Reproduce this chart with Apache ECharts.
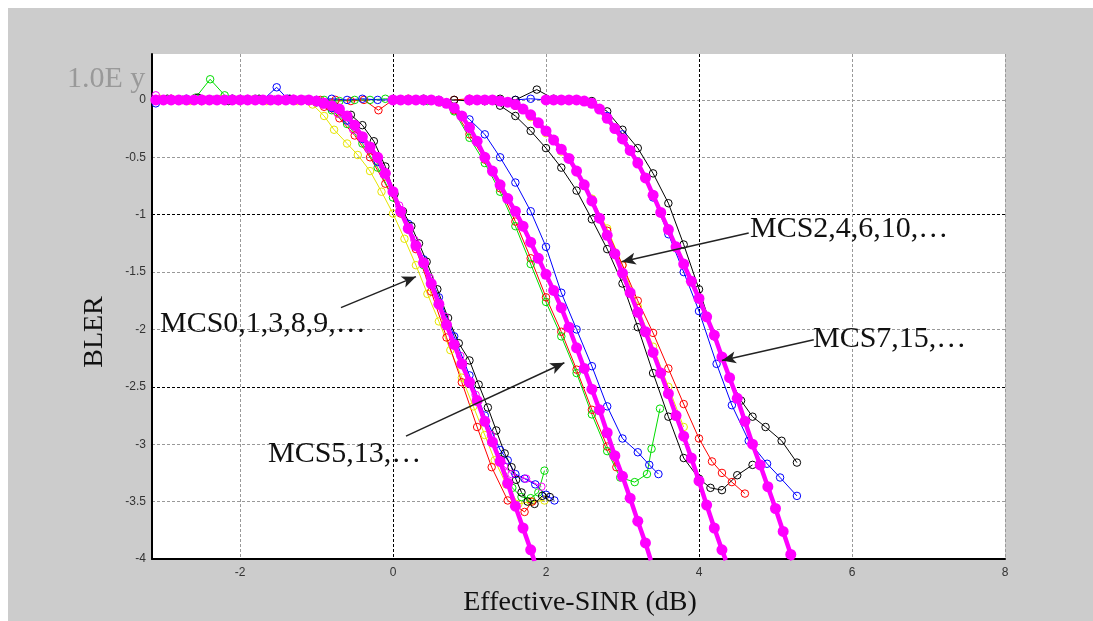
<!DOCTYPE html>
<html>
<head>
<meta charset="utf-8">
<script src="https://cdn.jsdelivr.net/npm/echarts@6/dist/echarts.min.js"></script>
<style>
  html, body { margin: 0; padding: 0; background: #fff; }
  #bler { position: absolute; left: 8px; top: 8px; width: 1085px; height: 613px; background: #cccccc; }
</style>
</head>
<body>
<div id="bler"></div>
<script>
// reference (thick magenta) curves, one per MCS group
var g1Ref = [[-3.1,0],[-3.0,0],[-2.9,0],[-2.8,0],[-2.7,0],[-2.6,0],[-2.5,0],[-2.4,0],[-2.3,0],[-2.2,0],[-2.1,0],[-2.0,0],[-1.9,0],[-1.8,0],[-1.7,0],[-1.6,0],[-1.5,0],[-1.4,0],[-1.3,0],[-1.2,0],[-1.1,0],[-1.0,-0.01],[-0.9,-0.03],[-0.8,-0.05],[-0.7,-0.08],[-0.6,-0.14],[-0.5,-0.22],[-0.4,-0.32],[-0.3,-0.41],[-0.2,-0.5],[-0.1,-0.64],[0.0,-0.8],[0.1,-0.97],[0.2,-1.12],[0.3,-1.27],[0.4,-1.42],[0.5,-1.6],[0.6,-1.78],[0.7,-1.96],[0.8,-2.13],[0.9,-2.3],[1.0,-2.46],[1.1,-2.62],[1.2,-2.8],[1.3,-2.98],[1.4,-3.15],[1.5,-3.34],[1.6,-3.54],[1.7,-3.73],[1.8,-3.92],[1.85,-4.02]];
var g2Ref = [[0.0,0],[0.1,0],[0.2,0],[0.3,0],[0.4,0],[0.5,0],[0.6,-0.01],[0.7,-0.03],[0.8,-0.07],[0.9,-0.14],[1.0,-0.24],[1.1,-0.36],[1.2,-0.5],[1.3,-0.62],[1.4,-0.74],[1.5,-0.86],[1.6,-0.97],[1.7,-1.1],[1.8,-1.24],[1.9,-1.38],[2.0,-1.52],[2.1,-1.66],[2.2,-1.81],[2.3,-1.98],[2.4,-2.16],[2.5,-2.34],[2.6,-2.52],[2.7,-2.7],[2.8,-2.9],[2.9,-3.1],[3.0,-3.28],[3.1,-3.47],[3.2,-3.67],[3.3,-3.86],[3.37,-4.01]];
var g3Ref = [[1.0,0],[1.1,0],[1.2,0],[1.3,0],[1.4,-0.01],[1.5,-0.02],[1.6,-0.04],[1.7,-0.08],[1.8,-0.13],[1.9,-0.2],[2.0,-0.27],[2.1,-0.35],[2.2,-0.43],[2.3,-0.51],[2.4,-0.62],[2.5,-0.74],[2.6,-0.88],[2.7,-1.03],[2.8,-1.18],[2.9,-1.34],[3.0,-1.51],[3.1,-1.68],[3.2,-1.85],[3.3,-2.02],[3.4,-2.2],[3.5,-2.38],[3.6,-2.56],[3.7,-2.75],[3.8,-2.93],[3.9,-3.12],[4.0,-3.32],[4.1,-3.53],[4.2,-3.73],[4.3,-3.92],[4.35,-4.01]];
var g4Ref = [[2.0,0],[2.1,0],[2.2,0],[2.3,0],[2.4,0],[2.5,-0.01],[2.6,-0.03],[2.7,-0.08],[2.8,-0.16],[2.9,-0.25],[3.0,-0.34],[3.1,-0.44],[3.2,-0.55],[3.3,-0.68],[3.4,-0.83],[3.5,-0.98],[3.6,-1.13],[3.7,-1.28],[3.8,-1.43],[3.9,-1.58],[4.0,-1.73],[4.1,-1.89],[4.2,-2.05],[4.3,-2.24],[4.4,-2.42],[4.5,-2.6],[4.6,-2.8],[4.7,-3.0],[4.8,-3.18],[4.9,-3.37],[5.0,-3.56],[5.1,-3.76],[5.2,-3.96],[5.22,-4.01]];

// simulated curves, MCS0,1,3,8,9,...
var g1Yellow = [[-3.05,0.01],[-2.85,0],[-2.65,-0.01],[-2.45,0],[-2.25,0.01],[-2.05,0],[-1.85,0],[-1.65,-0.01],[-1.45,0],[-1.25,-0.01],[-1.05,-0.04],[-0.9,-0.14],[-0.77,-0.26],[-0.6,-0.38],[-0.46,-0.48],[-0.3,-0.62],[-0.15,-0.8],[0.0,-0.99],[0.15,-1.21],[0.3,-1.44],[0.45,-1.69],[0.6,-1.93],[0.75,-2.18],[0.9,-2.42],[1.05,-2.67],[1.2,-2.92],[1.33,-3.14],[1.48,-3.35],[1.64,-3.52],[1.8,-3.5],[1.98,-3.49]];
var g1Red = [[-3.1,0],[-2.9,0.01],[-2.7,0],[-2.5,-0.01],[-2.3,0],[-2.1,0.01],[-1.9,0],[-1.7,0],[-1.5,-0.01],[-1.3,0],[-1.1,-0.01],[-0.9,-0.06],[-0.7,-0.16],[-0.5,-0.31],[-0.3,-0.5],[-0.1,-0.73],[0.1,-0.99],[0.3,-1.3],[0.5,-1.67],[0.7,-2.07],[0.9,-2.46],[1.1,-2.85],[1.29,-3.2],[1.5,-3.49],[1.72,-3.59],[1.82,-3.5]];
var g1Green = [[-3.0,0],[-2.8,0],[-2.58,0.02],[-2.39,0.18],[-2.2,0.04],[-2.0,0],[-1.8,0.01],[-1.6,0],[-1.4,0],[-1.2,0],[-1.0,-0.02],[-0.8,-0.09],[-0.6,-0.21],[-0.4,-0.38],[-0.2,-0.59],[0.0,-0.85],[0.2,-1.13],[0.4,-1.44],[0.6,-1.78],[0.8,-2.12],[1.0,-2.46],[1.2,-2.8],[1.4,-3.13],[1.56,-3.38],[1.68,-3.46],[1.8,-3.47],[1.9,-3.42],[1.98,-3.23]];
var g1Blue = [[-3.1,-0.03],[-2.9,0],[-2.7,0.01],[-2.5,0],[-2.3,0],[-2.1,0.01],[-1.9,0],[-1.7,0],[-1.52,0.11],[-1.38,0.01],[-1.2,0],[-1.0,-0.02],[-0.8,-0.07],[-0.6,-0.18],[-0.4,-0.34],[-0.2,-0.54],[0.0,-0.8],[0.2,-1.08],[0.4,-1.39],[0.6,-1.72],[0.8,-2.06],[1.0,-2.4],[1.2,-2.75],[1.4,-3.05],[1.5,-3.14],[1.6,-3.26],[1.72,-3.3],[1.86,-3.35],[2.0,-3.44],[2.11,-3.49]];
var g1Black = [[-2.95,0.01],[-2.75,0],[-2.55,0.02],[-2.35,0],[-2.15,-0.01],[-1.95,0],[-1.75,0.01],[-1.55,0],[-1.35,0.01],[-1.15,0],[-0.95,-0.02],[-0.75,-0.06],[-0.55,-0.13],[-0.4,-0.22],[-0.25,-0.36],[-0.1,-0.58],[0.02,-0.82],[0.13,-0.97],[0.24,-1.1],[0.34,-1.25],[0.44,-1.41],[0.58,-1.65],[0.72,-1.9],[0.86,-2.12],[1.0,-2.27],[1.12,-2.48],[1.24,-2.68],[1.35,-2.88],[1.46,-3.08],[1.55,-3.2],[1.61,-3.31],[1.68,-3.42],[1.76,-3.5],[1.85,-3.52],[1.95,-3.45],[2.05,-3.46]];
var g1Pink = [[-3.1,0.04],[-2.9,0.01],[-2.7,0],[-2.5,0.01],[-2.3,0],[-2.1,0],[-1.9,0.01],[-1.7,0],[-1.5,0],[-1.3,0.01],[-1.1,-0.01],[-0.92,-0.04],[-0.72,-0.12],[-0.52,-0.26],[-0.32,-0.43],[-0.12,-0.65],[0.08,-0.92],[0.28,-1.22],[0.48,-1.55],[0.68,-1.89],[0.88,-2.23],[1.08,-2.57],[1.28,-2.92],[1.45,-3.19],[1.55,-3.26],[1.74,-3.3],[1.94,-3.37]];

// MCS5,13,...
var g2Blue = [[-1.0,0],[-0.8,0.01],[-0.6,0],[-0.4,0.01],[-0.2,0],[0.0,0],[0.2,0],[0.4,-0.01],[0.6,-0.01],[0.8,-0.06],[1.0,-0.17],[1.2,-0.3],[1.4,-0.5],[1.6,-0.72],[1.8,-0.97],[2.0,-1.28],[2.2,-1.68],[2.4,-2.0],[2.6,-2.32],[2.8,-2.67],[3.0,-2.95],[3.2,-3.07],[3.35,-3.18],[3.47,-3.26]];
var g2Green = [[-0.9,0],[-0.7,-0.01],[-0.5,0],[-0.3,0],[-0.1,0.01],[0.1,0],[0.3,0],[0.45,-0.01],[0.62,-0.02],[0.8,-0.1],[1.0,-0.33],[1.2,-0.55],[1.4,-0.8],[1.6,-1.1],[1.8,-1.43],[2.0,-1.76],[2.2,-2.06],[2.4,-2.38],[2.6,-2.74],[2.8,-3.06],[2.97,-3.29],[3.16,-3.33],[3.32,-3.26],[3.38,-3.04],[3.49,-2.69]];
var g2Red = [[-0.95,0],[-0.75,0],[-0.55,-0.01],[-0.38,0],[-0.19,-0.09],[0.0,0],[0.2,0.01],[0.4,0],[0.6,-0.02],[0.8,-0.09],[1.0,-0.3],[1.2,-0.52],[1.4,-0.77],[1.6,-1.06],[1.8,-1.38],[2.0,-1.72],[2.2,-2.02],[2.4,-2.35],[2.6,-2.7],[2.8,-3.02],[2.92,-3.2]];

// MCS2,4,6,10,...
var g3Black = [[0.2,0],[0.4,0.01],[0.6,0],[0.8,0],[1.0,-0.01],[1.2,-0.01],[1.4,-0.05],[1.6,-0.14],[1.8,-0.27],[2.0,-0.42],[2.2,-0.59],[2.4,-0.79],[2.6,-1.04],[2.8,-1.3],[3.0,-1.6],[3.2,-1.98],[3.4,-2.38],[3.6,-2.76],[3.8,-3.12],[4.0,-3.3],[4.15,-3.38],[4.3,-3.4],[4.5,-3.27],[4.7,-3.18]];
var g3Red = [[0.8,0],[1.0,0.01],[1.2,0],[1.4,-0.01],[1.6,-0.05],[1.8,-0.14],[2.0,-0.27],[2.2,-0.43],[2.4,-0.62],[2.6,-0.87],[2.8,-1.14],[3.0,-1.44],[3.2,-1.75],[3.4,-2.03],[3.6,-2.34],[3.8,-2.65],[4.0,-2.95],[4.17,-3.15],[4.3,-3.25],[4.43,-3.33],[4.6,-3.43]];
var g3Yellow = [[1.2,0],[1.4,-0.01],[1.6,-0.05],[1.8,-0.15],[2.0,-0.29],[2.2,-0.45],[2.4,-0.63],[2.6,-0.86],[2.8,-1.12],[3.0,-1.44],[3.2,-1.8],[3.4,-2.15],[3.6,-2.5],[3.8,-2.85]];

// MCS7,15,...
var g4Black = [[1.0,0],[1.2,-0.01],[1.4,0.01],[1.6,0],[1.88,0.09],[2.1,0.01],[2.4,0],[2.6,-0.01],[2.8,-0.1],[3.0,-0.26],[3.2,-0.42],[3.4,-0.64],[3.6,-0.9],[3.8,-1.26],[4.0,-1.65],[4.2,-2.06],[4.4,-2.42],[4.55,-2.62],[4.7,-2.76],[4.87,-2.85],[5.08,-2.97],[5.28,-3.16]];
var g4Blue = [[1.6,0],[1.8,0.01],[2.0,0],[2.2,0],[2.4,0],[2.6,-0.03],[2.8,-0.14],[3.0,-0.3],[3.2,-0.54],[3.4,-0.85],[3.6,-1.17],[3.8,-1.5],[4.0,-1.84],[4.23,-2.3],[4.43,-2.66],[4.65,-2.97],[4.89,-3.17],[5.06,-3.29],[5.28,-3.45]];

// annotation arrows, [from, to] in data units
var arrows = [
  [[-0.68, -1.81], [0.3, -1.54]],
  [[4.65, -1.16], [2.99, -1.41]],
  [[5.5, -2.09], [4.3, -2.27]],
  [[0.17, -2.93], [2.24, -2.29]]
];

var xGridColors = ['#999', '#000', '#999', '#000', '#999', '#999'];
var yGridColors = ['#000', '#999', '#999', '#000', '#999', '#999', '#000', '#999', '#999'];

function thin(data, color) {
  return {
    type: 'line', data: data, symbol: 'circle', symbolSize: 7.5, showAllSymbol: true, silent: true, z: 2,
    lineStyle: { color: color, width: 1 },
    itemStyle: { color: 'rgba(0,0,0,0)', borderColor: color, borderWidth: 1 }
  };
}
function thick(data) {
  return {
    type: 'line', data: data, symbol: 'circle', symbolSize: 11, showAllSymbol: true, silent: true, z: 3,
    lineStyle: { color: '#ff00ff', width: 4.5 },
    itemStyle: { color: '#ff00ff' }
  };
}

var chart = echarts.init(document.getElementById('bler'));
var serif = 'Liberation Serif, Times New Roman, serif';

chart.setOption({
  animation: false,
  grid: { left: 144, top: 46, right: 88, bottom: 62, show: true, backgroundColor: '#fff', borderWidth: 0 },
  xAxis: {
    type: 'value', min: -3.15, max: 8, splitNumber: 5,
    axisLine: { show: true, onZero: false, lineStyle: { color: '#000', width: 2 } },
    axisTick: { show: false },
    axisLabel: { showMinLabel: false, color: '#333', fontSize: 12, fontFamily: 'Liberation Sans', margin: 8 },
    splitLine: { show: true, showMinLine: false, lineStyle: { color: xGridColors, type: [3, 2], width: 1 } }
  },
  yAxis: {
    type: 'value', min: -4, max: 0.4, interval: 0.5,
    axisLine: { show: true, onZero: false, lineStyle: { color: '#000', width: 2 } },
    axisTick: { show: false },
    axisLabel: { showMaxLabel: false, color: '#333', fontSize: 12, fontFamily: 'Liberation Sans', margin: 6 },
    splitLine: { show: true, showMaxLine: false, lineStyle: { color: yGridColors, type: [3, 2], width: 1 } }
  },
  series: [
    thin(g1Yellow, '#e6e600'), thin(g1Red, '#ff0000'), thin(g1Green, '#00dd00'),
    thin(g1Blue, '#0000ff'), thin(g1Black, '#000000'), thin(g1Pink, '#ff00ff'),
    thin(g2Red, '#ff0000'), thin(g2Green, '#00dd00'), thin(g2Blue, '#0000ff'),
    thin(g3Yellow, '#e6e600'), thin(g3Red, '#ff0000'), thin(g3Black, '#000000'),
    thin(g4Blue, '#0000ff'), thin(g4Black, '#000000'),
    thick(g1Ref), thick(g2Ref), thick(g3Ref), thick(g4Ref),
    {
      type: 'line', data: [], silent: true, z: 5,
      markLine: {
        silent: true, animation: false,
        symbol: ['none', 'arrow'], symbolSize: [9, 14],
        lineStyle: { color: '#222', width: 1.5, type: 'solid' },
        label: { show: false },
        data: arrows.map(function (a) { return [{ coord: a[0] }, { coord: a[1] }]; })
      }
    }
  ],
  graphic: [
    { type: 'text', left: 59, top: 56, style: { text: '1.0E y', font: '30px ' + serif, fill: '#999' } },
    { type: 'text', x: 87, y: 324, rotation: Math.PI / 2, style: { text: 'BLER', font: '28px ' + serif, fill: '#111', align: 'center', verticalAlign: 'middle' } },
    { type: 'text', x: 572, y: 595, style: { text: 'Effective-SINR (dB)', font: '28px ' + serif, fill: '#111', align: 'center', verticalAlign: 'middle' } },
    { type: 'text', x: 152, y: 316, z: 10, style: { text: 'MCS0,1,3,8,9,…', font: '30px ' + serif, fill: '#111', verticalAlign: 'middle' } },
    { type: 'text', x: 742, y: 221, z: 10, style: { text: 'MCS2,4,6,10,…', font: '30px ' + serif, fill: '#111', verticalAlign: 'middle' } },
    { type: 'text', x: 805, y: 331, z: 10, style: { text: 'MCS7,15,…', font: '30px ' + serif, fill: '#111', verticalAlign: 'middle' } },
    { type: 'text', x: 260, y: 446, z: 10, style: { text: 'MCS5,13,…', font: '30px ' + serif, fill: '#111', verticalAlign: 'middle' } }
  ]
});
</script>
</body>
</html>
